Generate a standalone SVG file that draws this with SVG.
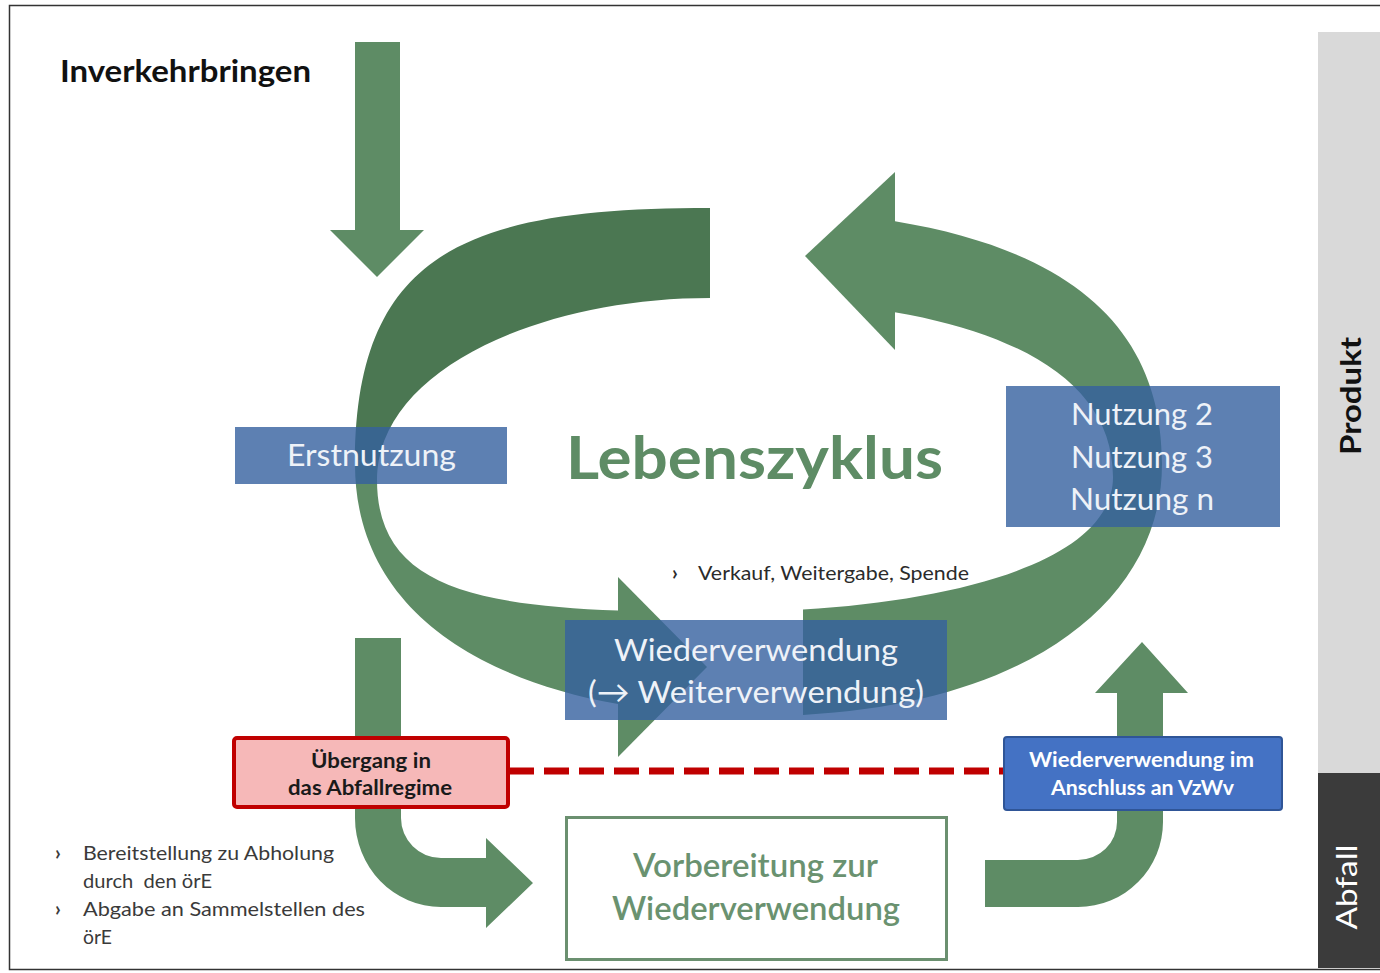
<svg xmlns="http://www.w3.org/2000/svg" width="1380" height="973" viewBox="0 0 1380 973">
<style>
  text { font-family: Lato, "Open Sans", "Liberation Sans", sans-serif; }
  .g { fill: #5e8c65; }
  .gd { fill: #4b7752; }
  .bluebox { fill: #34609f; fill-opacity: 0.8; }
  .wt { fill: #eef2f8; font-size: 31px; }
  .sm { fill: #2b2b2b; font-size: 20px; }
  .bt { fill: #3a3a3a; font-size: 20px; }
  .bul { font-weight: bold; }
</style>
<defs>
  <path id="ring" fill-rule="evenodd" d="M 710 208 C 1030 208 1162 300 1162 464 C 1162 610 1010 716 760 716 C 540 716 355 640 355 464 C 355 250 470 208 710 208 Z M 710 298 C 540 298 377 370 377 480 C 377 600 500 612 720 612 C 920 612 1113 570 1113 477 C 1113 350 940 298 710 298 Z"/>
  <clipPath id="clipDark"><polygon points="0,0 710,0 710,460 0,460"/></clipPath>
  <clipPath id="clipLow"><polygon points="0,460 618,460 618,973 0,973"/></clipPath>
  <clipPath id="clipRight"><polygon points="895,0 1380,0 1380,973 803,973 803,460 895,460"/></clipPath>
</defs>

<rect x="0" y="0" width="1380" height="973" fill="#ffffff"/>
<rect x="9.5" y="5.5" width="1390" height="964" fill="none" stroke="#333333" stroke-width="1.5"/>

<g id="side-produkt">
  <rect x="1318" y="32" width="62" height="741" fill="#d9d9d9"/>
  <text transform="translate(1361,396) rotate(-90)" text-anchor="middle" font-size="28" font-weight="bold" fill="#111111" textLength="118" lengthAdjust="spacingAndGlyphs">Produkt</text>
</g>
<g id="side-abfall">
  <rect x="1318" y="773" width="62" height="195" fill="#3b3b3b"/>
  <text transform="translate(1357,887) rotate(-90)" text-anchor="middle" font-size="28" fill="#ffffff" textLength="85" lengthAdjust="spacingAndGlyphs">Abfall</text>
</g>

<g id="title-inverkehrbringen">
  <text x="60" y="82" font-size="31" font-weight="bold" fill="#111111" textLength="251" lengthAdjust="spacingAndGlyphs">Inverkehrbringen</text>
</g>

<g id="connectors">
  <polygon class="g" points="355,42 400,42 400,230 424,230 377,277 330,230 355,230"/>
  <g class="g" clip-path="url(#clipLow)"><use href="#ring"/></g>
  <polygon class="g" points="618,577 618,757 707,667"/>
  <g class="g" clip-path="url(#clipRight)"><use href="#ring"/></g>
  <polygon class="g" points="895,172 895,350 805,256"/>
  <g class="gd" clip-path="url(#clipDark)"><use href="#ring"/></g>
  <path class="g" d="M 355 638 L 401 638 L 401 818 A 40 40 0 0 0 441 858 L 486 858 L 486 838 L 533 883 L 486 928 L 486 907 L 441 907 A 86 89 0 0 1 355 818 Z"/>
  <path class="g" d="M 985 860 L 1078 860 A 39 38 0 0 0 1117 822 L 1117 693 L 1095 693 L 1142 642 L 1188 693 L 1163 693 L 1163 822 A 85 85 0 0 1 1078 907 L 985 907 Z"/>
  <line x1="509" y1="771" x2="1003" y2="771" stroke="#c00000" stroke-width="7" stroke-dasharray="25 10"/>
</g>

<g id="node-erstnutzung">
  <rect class="bluebox" x="235" y="427" width="272" height="57"/>
  <text class="wt" x="371.5" y="466" text-anchor="middle" textLength="169" lengthAdjust="spacingAndGlyphs">Erstnutzung</text>
</g>

<g id="node-lebenszyklus">
  <text x="754.5" y="479" text-anchor="middle" font-size="59" font-weight="bold" fill="#5e8c65" textLength="377" lengthAdjust="spacingAndGlyphs">Lebenszyklus</text>
</g>

<g id="node-nutzung">
  <rect class="bluebox" x="1006" y="386" width="274" height="141"/>
  <text class="wt" x="1142" y="425" text-anchor="middle" textLength="142" lengthAdjust="spacingAndGlyphs">Nutzung 2</text>
  <text class="wt" x="1142" y="468" text-anchor="middle" textLength="142" lengthAdjust="spacingAndGlyphs">Nutzung 3</text>
  <text class="wt" x="1142" y="510" text-anchor="middle" textLength="144" lengthAdjust="spacingAndGlyphs">Nutzung n</text>
</g>

<g id="note-verkauf">
  <text class="sm bul" x="672" y="580">›</text>
  <text class="sm" x="698" y="580" textLength="271" lengthAdjust="spacingAndGlyphs">Verkauf, Weitergabe, Spende</text>
</g>

<g id="node-wiederverwendung">
  <rect class="bluebox" x="565" y="620" width="382" height="100"/>
  <text class="wt" x="756" y="661" text-anchor="middle" textLength="284" lengthAdjust="spacingAndGlyphs">Wiederverwendung</text>
  <text class="wt" x="756" y="703" text-anchor="middle" textLength="336" lengthAdjust="spacingAndGlyphs">(→ Weiterverwendung)</text>
</g>

<g id="node-uebergang">
  <rect x="234" y="738" width="274" height="69" rx="3" fill="#f6b8b8" stroke="#c00000" stroke-width="4"/>
  <text x="371" y="768" text-anchor="middle" font-size="20" font-weight="bold" fill="#1a1a1a" textLength="120" lengthAdjust="spacingAndGlyphs">Übergang in</text>
  <text x="370" y="795" text-anchor="middle" font-size="20" font-weight="bold" fill="#1a1a1a" textLength="164" lengthAdjust="spacingAndGlyphs">das Abfallregime</text>
</g>

<g id="node-anschluss">
  <rect x="1004" y="737" width="278" height="73" rx="3" fill="#4472c4" stroke="#2f5597" stroke-width="2"/>
  <text x="1141.5" y="767" text-anchor="middle" font-size="20" font-weight="bold" fill="#ffffff" textLength="225" lengthAdjust="spacingAndGlyphs">Wiederverwendung im</text>
  <text x="1142.5" y="795" text-anchor="middle" font-size="20" font-weight="bold" fill="#ffffff" textLength="183" lengthAdjust="spacingAndGlyphs">Anschluss an VzWv</text>
</g>

<g id="node-vorbereitung">
  <rect x="566.5" y="817.5" width="380" height="142" fill="#ffffff" stroke="#6b9070" stroke-width="3"/>
  <text x="755.5" y="877" text-anchor="middle" font-size="32" font-weight="600" fill="#6a9270" textLength="245" lengthAdjust="spacingAndGlyphs">Vorbereitung zur</text>
  <text x="756" y="920" text-anchor="middle" font-size="32" font-weight="600" fill="#6a9270" textLength="288" lengthAdjust="spacingAndGlyphs">Wiederverwendung</text>
</g>

<g id="note-abholung">
  <text class="bt bul" x="55" y="860">›</text>
  <text class="bt" x="83" y="860" textLength="251" lengthAdjust="spacingAndGlyphs">Bereitstellung zu Abholung</text>
  <text class="bt" x="83" y="888" textLength="129" lengthAdjust="spacingAndGlyphs">durch&#160; den örE</text>
  <text class="bt bul" x="55" y="916">›</text>
  <text class="bt" x="83" y="916" textLength="282" lengthAdjust="spacingAndGlyphs">Abgabe an Sammelstellen des</text>
  <text class="bt" x="83" y="944" textLength="29" lengthAdjust="spacingAndGlyphs">örE</text>
</g>
</svg>
